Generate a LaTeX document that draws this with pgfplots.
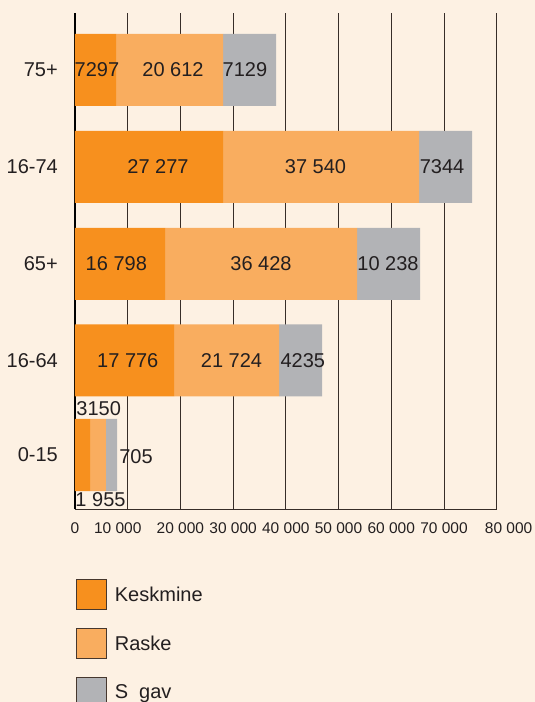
\documentclass[border=0pt]{standalone}
\usepackage{fontspec}
\setmainfont{Liberation Sans}
\usepackage{pgfplots}
\usepackage{pgfplotstable}
\pgfplotsset{compat=1.18}

\definecolor{bgc}{RGB}{253,241,227}
\definecolor{kesk}{RGB}{247,144,30}
\definecolor{raske}{RGB}{249,173,95}
\definecolor{sugav}{RGB}{178,179,182}
\definecolor{txtc}{RGB}{35,31,32}
\definecolor{gridc}{RGB}{55,45,40}
\definecolor{legbord}{RGB}{70,55,45}

\newcommand{\bigf}{\fontsize{20}{24}\selectfont}
\newcommand{\tickf}{\fontsize{15.5}{18}\selectfont}

% bar lengths as drawn (category centres in px from the bottom axis line)
\pgfplotstableread{
y     kesk  raske sugav
54    2850  3030  2090
148.5 18790 19920 8160
245   17080 36430 11950
342   28080 37190 10060
439   7780  20300 10060
}\bars

\begin{document}
\begin{tikzpicture}
\useasboundingbox (0,0) rectangle (535pt,702pt);
\fill[bgc] (0,0) rectangle (535pt,702pt);
\begin{axis}[
    at={(75pt,193pt)}, anchor=south west,
    scale only axis,
    width=421.67pt, height=496pt,
    xmin=0, xmax=80000, ymin=0, ymax=496,
    xbar stacked, bar width=72pt,
    axis x line*=bottom, axis y line*=left,
    axis line style={-},
    x axis line style={draw=gridc, line width=0.8pt},
    y axis line style={draw=black, line width=1.5pt},
    xmajorgrids, grid style={draw=gridc, line width=0.8pt},
    major tick length=0pt, tick style={draw=none},
    scaled x ticks=false,
    xtick={0,10000,...,80000},
    xticklabels={0,10 000\hspace*{20pt},20 000,30 000,40 000,50 000,60 000,70 000,\hspace*{24pt}80 000},
    ytick={54,148.5,245,342,439},
    yticklabels={0-15,16-64,65+,16-74,75+},
    xticklabel style={font=\tickf, text=txtc, anchor=center, yshift=-19pt},
    yticklabel style={font=\bigf, text=txtc, anchor=east, inner sep=0pt, xshift=-17pt},
    legend style={at={(axis description cs:0,0)}, anchor=north west,
        xshift=1pt, yshift=-70pt, draw=none, fill=none,
        inner sep=0pt, row sep=18pt, font=\bigf, text=txtc,
        nodes={inner sep=0pt, text depth=0pt}},
    legend cell align=left,
    sq/.style={draw=none, legend image code/.code={
        \draw[##1, draw=legbord, line width=0.7pt] (0pt,-15pt) rectangle (30pt,15pt);}},
]
\addplot[sq, fill=kesk] table[x=kesk, y=y] {\bars};
\addlegendentry{\hspace*{8pt}Keskmine}
\addplot[sq, fill=raske] table[x=raske, y=y] {\bars};
\addlegendentry{\hspace*{8pt}Raske}
\addplot[sq, fill=sugav] table[x=sugav, y=y] {\bars};
\addlegendentry{\hspace*{8pt}S\hspace{11pt}gav}

% label anchors, typeset after the axis so they sit on top of the bars
\coordinate (l1) at (axis cs:4170,439);
\coordinate (l2) at (axis cs:18590,439);
\coordinate (l3) at (axis cs:32250,439);
\coordinate (l4) at (axis cs:15750,342);
\coordinate (l5) at (axis cs:45630,342);
\coordinate (l6) at (axis cs:69630,342);
\coordinate (l7) at (axis cs:7840,245);
\coordinate (l8) at (axis cs:35290,245);
\coordinate (l9) at (axis cs:59380,245);
\coordinate (l10) at (axis cs:10020,148.5);
\coordinate (l11) at (axis cs:29690,148.5);
\coordinate (l12) at (axis cs:43220,148.5);
\coordinate (l13) at (axis cs:4500,100);
\coordinate (l14) at (axis cs:11580,52);
\coordinate (l15) at (axis cs:4840,9);
\end{axis}
\tikzset{lbl/.style={font=\bigf, text=txtc, anchor=center, inner sep=0pt}}
\node[lbl] at (l1) {7297};
\node[lbl] at (l2) {20 612};
\node[lbl] at (l3) {7129};
\node[lbl] at (l4) {27 277};
\node[lbl] at (l5) {37 540};
\node[lbl] at (l6) {7344};
\node[lbl] at (l7) {16 798};
\node[lbl] at (l8) {36 428};
\node[lbl] at (l9) {10 238};
\node[lbl] at (l10) {17 776};
\node[lbl] at (l11) {21 724};
\node[lbl] at (l12) {4235};
\node[lbl] at (l13) {3150};
\node[lbl] at (l14) {705};
\node[lbl] at (l15) {1 955};
\end{tikzpicture}
\end{document}
